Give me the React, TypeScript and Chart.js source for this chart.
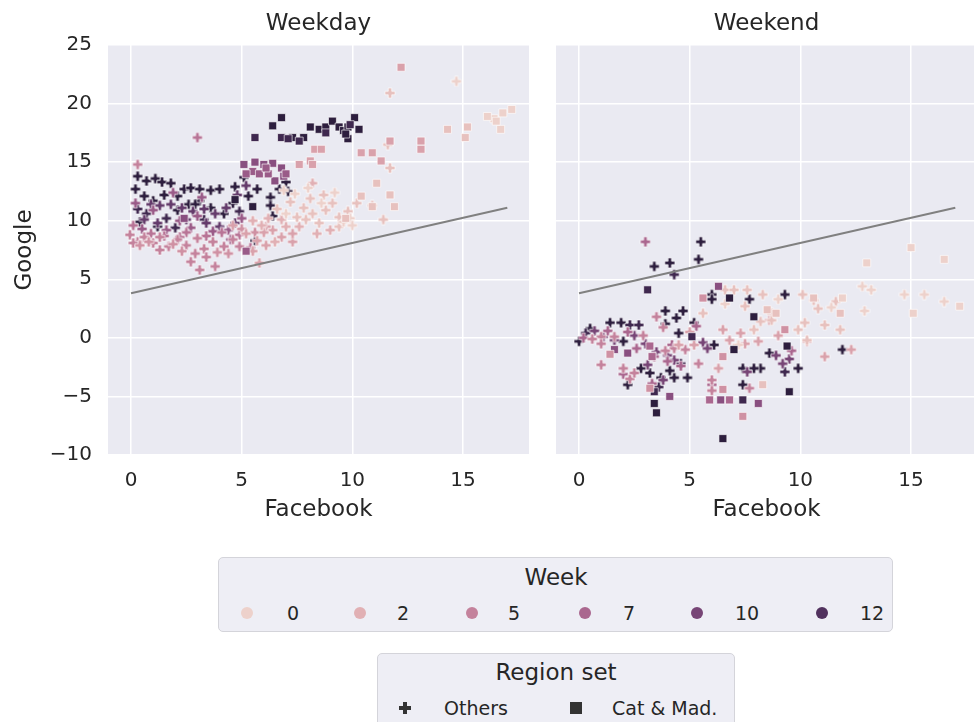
import React, { useEffect, useRef } from "react";
import { Chart, registerables } from "chart.js";

Chart.register(...registerables);

// ---------- data ----------
const panelTitles = ["Weekday", "Weekend"];
const xTicks = [0, 5, 10, 15];
const yTicks = [-10, -5, 0, 5, 10, 15, 20, 25];
const weekLegend = [0, 2, 5, 7, 10, 12];
const regionLegend = ["Others", "Cat & Mad."];
const refLineX = [0, 17];
const refLineY = [3.8, 11.1];

// [Facebook, Google, Week]
const weekdayOthers: number[][] = [
  [0.3, 13.8, 14], [0.7, 13.4, 14], [1.1, 13.6, 14], [1.4, 13.3, 14], [1.8, 13.2, 14], [2.4, 12.7, 14],
  [2.7, 12.8, 14], [3.1, 12.7, 14], [3.6, 12.6, 14], [4.0, 12.7, 14], [0.2, 12.7, 14], [0.6, 12.1, 14],
  [1.0, 11.7, 14], [1.5, 12.2, 14], [2.1, 12.1, 14], [2.6, 11.4, 14], [3.1, 11.7, 14], [3.6, 11.1, 14],
  [4.7, 12.9, 14], [5.1, 13.7, 14], [5.3, 12.1, 14], [5.7, 12.7, 14], [6.3, 12.0, 14], [6.7, 12.7, 14],
  [7.0, 13.3, 14], [7.1, 12.5, 14], [6.3, 11.3, 14], [6.4, 10.4, 14], [5.6, 8.3, 14], [0.4, 9.9, 14],
  [1.2, 9.5, 14], [2.1, 10.9, 14], [2.9, 11.4, 14], [4.2, 10.6, 14], [4.6, 11.5, 14],
  [0.7, 10.6, 13], [1.6, 10.2, 13], [3.3, 10.1, 13], [0.3, 11.0, 13], [2.0, 9.4, 13], [4.9, 10.8, 13],
  [0.9, 11.4, 11], [1.3, 11.3, 11], [1.8, 11.4, 11], [2.3, 11.1, 11], [2.8, 10.8, 11], [3.3, 11.0, 11],
  [3.8, 10.6, 11], [4.3, 11.1, 11], [4.8, 12.2, 11], [0.6, 10.1, 11], [1.2, 9.8, 11], [2.5, 10.1, 11],
  [3.4, 9.8, 11], [4.0, 9.5, 11], [4.7, 9.8, 11], [5.2, 13.0, 11],
  [0.2, 11.5, 8], [1.0, 10.9, 8], [1.6, 9.2, 8], [2.2, 10.0, 8], [2.7, 9.4, 8], [3.0, 10.4, 8],
  [3.7, 9.1, 8], [4.4, 9.2, 8], [4.5, 8.4, 8], [5.0, 10.2, 8], [1.9, 12.4, 8], [3.2, 12.0, 8], [0.5, 9.3, 8],
  [3.0, 17.1, 6], [0.1, 9.6, 6], [0.9, 8.9, 6], [1.5, 8.7, 6], [2.5, 9.0, 6], [3.4, 8.7, 6],
  [4.1, 9.0, 6], [4.9, 8.8, 6], [2.2, 8.6, 6], [5.4, 7.7, 6],
  [0.3, 14.8, 5], [-0.05, 8.8, 5], [0.3, 8.2, 5], [0.6, 8.6, 5], [1.0, 8.1, 5], [1.3, 8.6, 5],
  [1.7, 7.8, 5], [2.1, 8.4, 5], [2.5, 7.9, 5], [3.0, 8.5, 5], [3.3, 7.6, 5], [3.7, 8.2, 5],
  [4.2, 7.8, 5], [4.6, 8.4, 5], [4.9, 7.8, 5], [2.7, 6.5, 5], [3.1, 5.8, 5], [3.8, 6.1, 5],
  [3.4, 6.9, 5], [1.3, 7.5, 5], [2.9, 7.2, 5], [0.1, 8.1, 5],
  [0.4, 7.9, 4], [0.8, 8.2, 4], [1.9, 8.0, 4], [2.3, 7.4, 4], [3.9, 7.3, 4], [4.4, 7.2, 4],
  [5.0, 9.3, 4], [5.6, 9.0, 4],
  [5.2, 8.9, 3], [5.7, 8.3, 3], [6.1, 7.9, 3], [6.4, 9.2, 3], [6.8, 8.6, 3], [7.3, 8.2, 3],
  [7.3, 8.9, 3], [6.1, 9.5, 3], [5.5, 7.4, 3], [5.8, 6.4, 3], [6.0, 9.0, 3], [4.6, 9.6, 3],
  [5.5, 10.0, 2], [5.9, 9.6, 2], [6.2, 10.2, 2], [7.0, 9.5, 2], [7.6, 9.5, 2], [8.4, 8.9, 2],
  [6.8, 10.1, 2], [8.2, 13.2, 2], [9.0, 9.2, 2], [6.5, 8.2, 2],
  [7.5, 10.3, 1], [7.8, 11.1, 1], [8.1, 11.9, 1], [8.2, 10.6, 1], [8.5, 9.8, 1], [8.8, 10.9, 1],
  [9.1, 11.5, 1], [9.4, 10.3, 1], [7.9, 10.1, 1], [9.4, 9.5, 1], [6.6, 11.0, 1], [7.2, 11.6, 1],
  [8.7, 12.2, 1], [9.8, 10.8, 1], [10.2, 11.5, 1], [10.9, 11.3, 1], [11.7, 14.5, 1], [11.4, 10.1, 1],
  [11.6, 16.5, 1], [11.7, 20.9, 1],
  [14.7, 21.9, 0], [7.0, 10.6, 0], [7.4, 12.3, 0], [8.6, 11.5, 0], [9.2, 12.4, 0], [9.6, 9.9, 0],
  [6.9, 12.6, 0], [9.9, 10.2, 0], [8.0, 12.8, 0], [10.0, 9.6, 0],
];

const weekdayCatMad: number[][] = [
  [6.8, 18.8, 14], [6.4, 18.1, 14], [7.8, 17.1, 14], [8.1, 18.0, 14], [8.5, 17.8, 14], [8.8, 18.0, 14],
  [9.1, 18.5, 14], [9.4, 18.0, 14], [9.6, 17.7, 14], [9.8, 18.0, 14], [10.1, 18.8, 14], [10.3, 17.8, 14],
  [9.8, 17.0, 14], [9.7, 17.4, 14], [7.3, 17.1, 14], [4.7, 11.8, 14], [5.5, 11.2, 14],
  [5.6, 17.1, 13], [6.8, 17.1, 13], [7.1, 17.0, 13], [7.6, 16.8, 13], [9.9, 18.2, 13], [8.8, 17.5, 13],
  [5.1, 14.8, 9], [5.6, 15.0, 9], [6.0, 14.8, 9], [6.4, 14.9, 9], [6.8, 14.5, 9], [2.4, 10.2, 9],
  [6.5, 13.4, 9], [6.9, 13.8, 9],
  [5.5, 14.2, 8], [5.8, 14.0, 8], [6.2, 14.0, 8], [7.0, 14.0, 8], [5.2, 14.0, 8], [6.1, 14.5, 8], [5.2, 7.4, 8],
  [12.2, 23.1, 3], [8.3, 16.1, 3], [8.6, 16.1, 3], [8.1, 15.1, 3], [7.6, 14.8, 3], [8.2, 14.8, 3],
  [10.4, 15.8, 3], [10.9, 15.8, 3], [11.3, 15.1, 3], [11.7, 16.8, 3], [13.1, 16.8, 3], [13.1, 16.1, 3],
  [14.3, 17.8, 1], [15.2, 18.0, 1], [15.1, 17.1, 1], [11.1, 13.2, 1], [11.7, 12.2, 1], [11.9, 11.2, 1],
  [10.9, 11.2, 1], [9.7, 10.2, 1], [10.4, 12.1, 1],
  [16.7, 17.8, 0], [16.4, 18.7, 0], [17.2, 19.5, 0], [16.8, 19.2, 0], [16.5, 18.5, 0], [16.1, 18.9, 0],
];

const weekendOthers: number[][] = [
  [5.5, 8.2, 14], [3.4, 6.1, 14], [4.1, 6.4, 14], [5.4, 6.7, 14], [6.0, 3.7, 14], [6.0, 3.3, 14],
  [7.7, 3.3, 14], [9.3, 3.7, 14], [3.9, 2.3, 14], [4.7, 2.3, 14], [4.4, 1.7, 14], [3.9, 1.2, 14],
  [5.2, 1.3, 14], [1.9, 1.3, 14], [1.4, 1.3, 14], [0.5, 0.8, 14], [0.0, -0.3, 14], [2.0, -0.3, 14],
  [4.5, 0.4, 14], [6.1, -0.6, 14], [8.6, -1.3, 14], [11.9, -1.0, 14], [9.9, -2.6, 14], [8.2, -2.6, 14],
  [7.9, -2.6, 14], [7.4, -2.6, 14], [7.4, -4.0, 14], [3.7, -3.4, 14], [4.3, -3.4, 14], [4.9, -3.4, 14],
  [3.2, -3.0, 14], [2.2, -4.0, 14], [2.8, -2.6, 14], [4.1, -2.8, 14],
  [4.3, 5.4, 13], [2.3, 1.1, 13], [2.7, 1.1, 13], [0.3, 0.4, 13], [9.3, -2.9, 13], [4.6, -2.2, 13], [3.6, -4.2, 13],
  [0.7, 0.6, 10], [1.1, 0.1, 10], [1.6, -0.2, 10], [2.5, 0.2, 10], [3.0, -0.5, 10], [3.5, -1.2, 10],
  [4.0, -1.5, 10], [4.3, -1.9, 10], [5.6, -0.4, 10], [8.9, -1.5, 10], [9.5, -1.8, 10], [9.2, -2.2, 10],
  [3.8, -3.6, 10], [5.8, -0.9, 10], [7.6, -2.9, 10], [3.1, -2.3, 10],
  [3.0, 8.2, 7], [0.2, 0.0, 7], [1.3, 0.6, 7], [2.2, 0.5, 7], [2.6, -0.9, 7], [3.4, -1.6, 7],
  [4.0, -2.0, 7], [4.6, -2.4, 7], [2.0, -3.1, 7], [3.3, -3.9, 7], [4.2, -0.6, 7], [9.6, -1.1, 7],
  [5.3, 1.0, 7], [6.0, -4.0, 7],
  [1.0, -2.3, 5], [2.0, -2.6, 5], [2.3, -3.5, 5], [2.5, -3.0, 5], [1.0, 0.1, 5], [1.0, -0.5, 5],
  [1.6, 0.1, 5], [3.5, 1.8, 5], [4.3, -0.9, 5], [4.8, -1.0, 5], [5.4, -2.2, 5], [6.0, -3.6, 5],
  [6.0, -4.5, 5], [7.7, -4.3, 5], [3.8, 0.9, 5], [0.6, -0.1, 5], [2.9, 0.2, 5], [3.9, -1.1, 5],
  [6.5, 0.7, 3], [7.5, -0.5, 3], [8.1, -0.3, 3], [9.0, 0.2, 3], [10.3, -0.3, 3], [11.1, -1.6, 3],
  [12.3, -1.0, 3], [5.2, -0.6, 3], [6.8, -0.2, 3], [7.0, -0.9, 3], [5.0, 0.5, 3], [8.6, 1.5, 3],
  [4.5, -0.6, 3], [6.3, -2.6, 3], [7.3, 0.4, 3],
  [5.6, 2.1, 1], [6.6, 4.1, 1], [7.0, 4.1, 1], [7.6, 4.1, 1], [8.3, 3.7, 1], [7.5, 2.7, 1],
  [8.7, 2.1, 1], [8.7, 1.5, 1], [10.1, 3.7, 1], [10.8, 2.5, 1], [10.6, 3.2, 1], [10.2, 1.3, 1],
  [11.1, 1.1, 1], [11.8, 0.7, 1], [11.6, 3.1, 1], [9.9, 0.7, 1], [10.3, -0.2, 1], [8.2, 1.4, 1], [7.9, 0.7, 1],
  [12.8, 4.4, 0], [13.2, 4.1, 0], [12.9, 2.3, 0], [14.7, 3.7, 0], [15.6, 3.7, 0], [16.5, 3.1, 0],
  [9.0, 3.3, 0], [6.6, 2.9, 0], [11.4, 2.6, 0], [7.2, -0.6, 0],
];

const weekendCatMad: number[][] = [
  [6.5, -8.6, 14], [3.4, -5.6, 14], [3.5, -6.4, 14], [9.4, -0.7, 14], [7.0, -1.0, 14], [9.5, -4.6, 14],
  [7.9, 1.8, 14], [6.8, 3.4, 14],
  [3.1, 4.1, 13], [3.4, -4.6, 13], [7.4, -5.3, 13], [5.1, 0.1, 13],
  [6.3, 4.4, 9], [4.1, -5.0, 9], [6.4, -5.3, 9], [8.1, -5.6, 9], [1.6, -1.0, 9], [2.2, -1.3, 9],
  [3.2, -0.7, 7], [3.3, -1.6, 7], [5.9, -5.3, 7], [6.8, -5.3, 7],
  [5.6, 3.4, 4], [9.3, 0.7, 4], [6.5, -1.6, 4], [1.4, -1.4, 4], [6.5, -4.4, 4], [7.4, -6.7, 4], [3.2, -4.3, 4],
  [8.3, -4.0, 1], [11.8, 2.1, 1], [10.6, 3.4, 1], [8.9, 2.1, 1], [8.5, 2.4, 1],
  [11.9, 3.4, 0], [13.0, 6.4, 0], [15.0, 7.7, 0], [16.5, 6.7, 0], [15.1, 2.1, 0], [17.2, 2.7, 0],
];

// ---------- styling helpers ----------
const FONT = "'DejaVu Sans', sans-serif";
const TEXT = "#262626";
const WEEK_MAX = 14;

function weekColor(w: number): string {
  const t = 0.85 - 0.7 * (w / WEEK_MAX);
  const start = 0, rot = 0.4, hue = 0.8;
  const a = (hue * t * (1 - t)) / 2;
  const phi = 2 * Math.PI * (start / 3 + rot * t);
  const c = Math.cos(phi), s = Math.sin(phi);
  const r = t + a * (-0.14861 * c + 1.78277 * s);
  const g = t + a * (-0.29227 * c - 0.90649 * s);
  const b = t + a * (1.97294 * c);
  const f = (v: number) => Math.round(Math.max(0, Math.min(1, v)) * 255);
  return `rgb(${f(r)},${f(g)},${f(b)})`;
}

const plusCache: Record<string, HTMLCanvasElement> = {};
function plusImage(color: string): HTMLCanvasElement {
  if (plusCache[color]) return plusCache[color];
  const size = 12;
  const cv = document.createElement("canvas");
  cv.width = size;
  cv.height = size;
  const ctx = cv.getContext("2d")!;
  const h = 5, w = 1.75, c = size / 2;
  const pts = [
    [-w, -h], [w, -h], [w, -w], [h, -w], [h, w], [w, w],
    [w, h], [-w, h], [-w, w], [-h, w], [-h, -w], [-w, -w],
  ];
  ctx.beginPath();
  pts.forEach(([x, y], i) => (i ? ctx.lineTo(c + x, c + y) : ctx.moveTo(c + x, c + y)));
  ctx.closePath();
  ctx.fillStyle = color;
  ctx.fill();
  ctx.strokeStyle = "rgba(255,255,255,0.9)";
  ctx.lineWidth = 0.7;
  ctx.stroke();
  plusCache[color] = cv;
  return cv;
}

const toPts = (rows: number[][]) => rows.map(([x, y, w]) => ({ x, y, w }));

const bgPlugin = {
  id: "panelBg",
  beforeDraw(chart: any) {
    const { ctx, chartArea: a } = chart;
    ctx.save();
    ctx.fillStyle = "#eaeaf2";
    ctx.fillRect(a.left, a.top, a.right - a.left, a.bottom - a.top);
    ctx.restore();
  },
};

function buildConfig(title: string, others: number[][], cat: number[][], showY: boolean, padRight: number): any {
  return {
    type: "scatter",
    data: {
      datasets: [
        {
          label: "line",
          data: refLineX.map((x, i) => ({ x, y: refLineY[i] })),
          showLine: true,
          borderColor: "#808080",
          borderWidth: 2,
          pointRadius: 0,
        },
        {
          label: regionLegend[1],
          data: toPts(cat),
          pointStyle: "rect",
          pointRadius: 5.6,
          backgroundColor: (c: any) => weekColor(c.raw ? c.raw.w : 0),
          borderColor: "rgba(255,255,255,0.9)",
          borderWidth: 0.7,
        },
        {
          label: regionLegend[0],
          data: toPts(others),
          pointStyle: (c: any) => plusImage(weekColor(c.raw ? c.raw.w : 0)),
          pointRadius: 5,
          backgroundColor: (c: any) => weekColor(c.raw ? c.raw.w : 0),
        },
      ],
    },
    options: {
      animation: false,
      responsive: false,
      events: [],
      layout: { padding: { left: 0, right: padRight, top: 0, bottom: 0 } },
      plugins: {
        legend: { display: false },
        tooltip: { enabled: false },
        title: {
          display: true,
          text: title,
          fullSize: false,
          color: TEXT,
          font: { family: FONT, size: 23, weight: "normal" },
          padding: { top: 10, bottom: 7.4 },
        },
      },
      scales: {
        x: {
          type: "linear",
          min: -1.04,
          max: 17.98,
          afterBuildTicks: (s: any) => { s.ticks = xTicks.map((v) => ({ value: v })); },
          afterFit: (s: any) => { s.height = 85; },
          grid: { color: "#ffffff", lineWidth: 1.5, drawTicks: false },
          border: { display: false },
          ticks: { padding: 14, color: TEXT, font: { family: FONT, size: 20 } },
          title: {
            display: true,
            text: "Facebook",
            color: TEXT,
            font: { family: FONT, size: 23 },
            padding: { top: 0, bottom: 16 },
          },
        },
        y: {
          type: "linear",
          min: -10,
          max: 25,
          afterBuildTicks: (s: any) => { s.ticks = yTicks.map((v) => ({ value: v })); },
          afterFit: (s: any) => { s.width = showY ? 108 : 16; },
          grid: { color: "#ffffff", lineWidth: 1.5, drawTicks: false },
          border: { display: false },
          ticks: {
            display: showY,
            padding: 16,
            color: TEXT,
            font: { family: FONT, size: 20 },
            callback: (v: number) => (v < 0 ? "\u2212" + Math.abs(v) : String(v)),
          },
          title: {
            display: showY,
            text: "Google",
            color: TEXT,
            font: { family: FONT, size: 23 },
            padding: { top: 11, bottom: 0 },
          },
        },
      },
    },
    plugins: [bgPlugin],
  };
}

export default function App() {
  const leftRef = useRef<HTMLCanvasElement>(null);
  const rightRef = useRef<HTMLCanvasElement>(null);

  useEffect(() => {
    const c1 = new Chart(leftRef.current!, buildConfig(panelTitles[0], weekdayOthers, weekdayCatMad, true, 11));
    const c2 = new Chart(rightRef.current!, buildConfig(panelTitles[1], weekendOthers, weekendCatMad, false, 13));
    return () => {
      c1.destroy();
      c2.destroy();
    };
  }, []);

  const circleX = [247, 360, 472, 585, 697, 822];
  const labelX = [287, 397, 508, 623, 735, 860];

  return (
    <div
      style={{
        position: "fixed",
        left: 0,
        top: 0,
        width: 974,
        height: 722,
        overflow: "hidden",
        background: "#ffffff",
        fontFamily: FONT,
        color: TEXT,
      }}
    >
      <canvas ref={leftRef} width={540} height={540} style={{ position: "absolute", left: 0, top: 0 }} />
      <canvas ref={rightRef} width={450} height={540} style={{ position: "absolute", left: 540, top: 0 }} />

      {/* Week legend */}
      <div
        style={{
          position: "absolute",
          left: 218,
          top: 557,
          width: 675,
          height: 75,
          boxSizing: "border-box",
          background: "#eeeef5",
          border: "1px solid #d4d4da",
          borderRadius: 5,
        }}
      />
      <div style={{ position: "absolute", left: 456, width: 200, top: 563, lineHeight: "28px", fontSize: 23, textAlign: "center" }}>
        Week
      </div>
      {weekLegend.map((w, i) => (
        <React.Fragment key={w}>
          <div
            style={{
              position: "absolute",
              left: circleX[i] - 6,
              top: 607,
              width: 12,
              height: 12,
              borderRadius: 6,
              background: weekColor(w),
            }}
          />
          <div style={{ position: "absolute", left: labelX[i], top: 601, lineHeight: "24px", fontSize: 19 }}>{w}</div>
        </React.Fragment>
      ))}

      {/* Region legend */}
      <div
        style={{
          position: "absolute",
          left: 377,
          top: 653,
          width: 358,
          height: 90,
          boxSizing: "border-box",
          background: "#eeeef5",
          border: "1px solid #d4d4da",
          borderRadius: 5,
        }}
      />
      <div style={{ position: "absolute", left: 456, width: 200, top: 658, lineHeight: "28px", fontSize: 23, textAlign: "center" }}>
        Region set
      </div>
      <div style={{ position: "absolute", left: 399, top: 706, width: 12, height: 4, background: "#333333" }} />
      <div style={{ position: "absolute", left: 403, top: 702, width: 4, height: 12, background: "#333333" }} />
      <div style={{ position: "absolute", left: 444, top: 696, lineHeight: "24px", fontSize: 19 }}>{regionLegend[0]}</div>
      <div style={{ position: "absolute", left: 570, top: 702, width: 12, height: 12, background: "#333333" }} />
      <div style={{ position: "absolute", left: 612, top: 696, lineHeight: "24px", fontSize: 19 }}>{regionLegend[1]}</div>
    </div>
  );
}
